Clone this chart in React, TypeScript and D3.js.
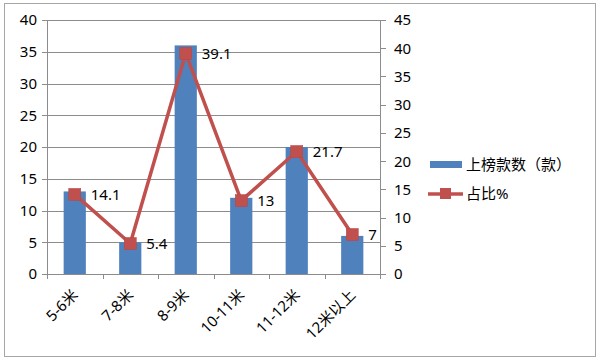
import React from "react";
import * as d3 from "d3";

const categories = ["5-6米", "7-8米", "8-9米", "10-11米", "11-12米", "12米以上"];
const counts = [13, 5, 36, 12, 20, 6];
const shares = [14.1, 5.4, 39.1, 13, 21.7, 7];
const shareLabels = ["14.1", "5.4", "39.1", "13", "21.7", "7"];
const leftTicks = [0, 5, 10, 15, 20, 25, 30, 35, 40];
const rightTicks = [0, 5, 10, 15, 20, 25, 30, 35, 40, 45];
const seriesNames = ["上榜款数（款）", "占比%"];

const W = 600, H = 360;
const left = 47, right = 380, top = 20, bottom = 274;
const BLUE = "#4F81BD", RED = "#C0504D", GRID = "#8C8C8C";
const FONT = "'Noto Sans', 'Noto Sans CJK SC', sans-serif";

export default function App() {
  const x = d3.scaleBand<string>().domain(categories).range([left, right]).paddingInner(0).paddingOuter(0);
  const yL = d3.scaleLinear().domain([0, 40]).range([bottom, top]);
  const yR = d3.scaleLinear().domain([0, 45]).range([bottom, top]);
  const bw = x.bandwidth() / 2.5;
  const cx = (c: string) => (x(c) as number) + x.bandwidth() / 2;
  const line = d3.line<number>().x((_, i) => cx(categories[i])).y((d) => yR(d));
  const ms = 12;

  return (
    <svg width={W} height={H} style={{ position: "absolute", left: 0, top: 0, fontFamily: FONT }}>
      <rect x={0} y={0} width={W} height={H} fill="#fff" />
      <rect x={4.5} y={3.5} width={591} height={353} fill="#fff" stroke="#A6A6A6" strokeWidth={1} />
      {leftTicks.map((t) => (
        <line key={"g" + t} x1={left - 5} x2={right} y1={Math.round(yL(t)) + 0.5} y2={Math.round(yL(t)) + 0.5} stroke={GRID} strokeWidth={1} />
      ))}
      <line x1={left + 0.5} x2={left + 0.5} y1={top} y2={bottom + 5} stroke={GRID} />
      {leftTicks.map((t) => (
        <text key={"l" + t} x={37} y={yL(t)} dy="0.36em" textAnchor="end" fontSize={15} fill="#000">{t}</text>
      ))}
      <line x1={right + 0.5} x2={right + 0.5} y1={top} y2={bottom + 5} stroke={GRID} />
      {rightTicks.map((t) => (
        <g key={"r" + t}>
          <line x1={right} x2={right + 6} y1={Math.round(yR(t)) + 0.5} y2={Math.round(yR(t)) + 0.5} stroke={GRID} />
          <text x={394} y={yR(t)} dy="0.36em" textAnchor="start" fontSize={15} fill="#000">{t}</text>
        </g>
      ))}
      {categories.map((c, i) => (
        <line key={"xt" + i} x1={Math.round(x(c) as number) + 0.5} x2={Math.round(x(c) as number) + 0.5} y1={bottom} y2={bottom + 5} stroke={GRID} />
      ))}
      {categories.map((c, i) => (
        <rect key={"b" + i} x={cx(c) - bw / 2} y={yL(counts[i])} width={bw} height={bottom - yL(counts[i])} fill={BLUE} />
      ))}
      <path d={line(shares) || ""} fill="none" stroke={RED} strokeWidth={3.5} strokeLinejoin="round" />
      {shares.map((v, i) => (
        <rect key={"m" + i} x={cx(categories[i]) - ms / 2} y={yR(v) - ms / 2} width={ms} height={ms} fill={RED} stroke="#B84440" strokeWidth={0.5} />
      ))}
      {shares.map((v, i) => (
        <text key={"v" + i} x={cx(categories[i]) + 16} y={yR(v)} dy="0.36em" fontSize={15} fill="#000">{shareLabels[i]}</text>
      ))}
      {categories.map((c, i) => (
        <text key={"xl" + i} transform={`translate(${cx(c) + 4},${bottom + 22}) rotate(-45)`} textAnchor="end" fontSize={15} fill="#000">{c}</text>
      ))}
      <rect x={430} y={161} width={32} height={7} fill={BLUE} />
      <text x={466} y={165} dy="0.36em" fontSize={15} fill="#000">{seriesNames[0]}</text>
      <line x1={428} x2={463} y1={194} y2={194} stroke={RED} strokeWidth={3.5} />
      <rect x={440} y={188} width={11} height={11} fill={RED} />
      <text x={466} y={194} dy="0.36em" fontSize={15} fill="#000">{seriesNames[1]}</text>
    </svg>
  );
}
